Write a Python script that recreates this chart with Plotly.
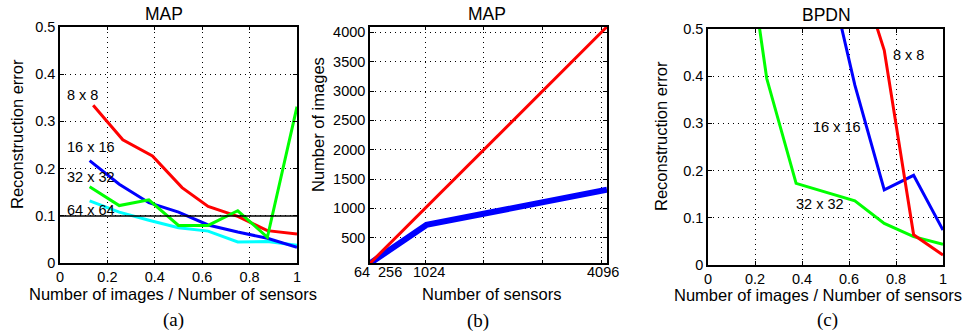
import plotly.graph_objects as go

W, H = 966, 334

# ---------------- data ----------------
# Panel (a): MAP reconstruction error vs ratio
a_x_8 = [0.14, 0.265, 0.39, 0.515, 0.625, 0.75, 0.875, 1.0]
a_y_8 = [0.334, 0.261, 0.227, 0.160, 0.120, 0.099, 0.069, 0.062]
a_x = [0.125, 0.25, 0.375, 0.5, 0.625, 0.75, 0.875, 1.0]
a_y_16 = [0.217, 0.167, 0.128, 0.108, 0.081, 0.066, 0.053, 0.034]
a_y_32 = [0.162, 0.122, 0.134, 0.080, 0.080, 0.111, 0.055, 0.331]
a_y_64 = [0.132, 0.108, 0.091, 0.075, 0.068, 0.045, 0.046, 0.038]
a_threshold = 0.1

# Panel (b): number of images vs number of sensors
b_sensors = [64, 1024, 4096]
b_images_red = [64, 1024, 4096]
b_images_blue = [64, 718, 1318]
b_tick_text = ["64", "256", "1024", "4096"]
b_tick_label_pos = [-64, 405, 1060, 4033]
b_grid_x = [1000, 2000, 3000, 4000]
b_y_ticks = [500, 1000, 1500, 2000, 2500, 3000, 3500, 4000]
b_range = [64, 4096]

# Panel (c): BPDN reconstruction error
c_x_8 = [0.625, 0.75, 0.875, 1.0]
c_y_8 = [0.65, 0.455, 0.064, 0.021]
c_x_16 = [0.5, 0.625, 0.75, 0.875, 1.0]
c_y_16 = [0.65, 0.381, 0.159, 0.190, 0.074]
c_x_32 = [0.125, 0.25, 0.375, 0.5, 0.625, 0.75, 0.875, 1.0]
c_y_32 = [0.83, 0.395, 0.173, 0.155, 0.136, 0.088, 0.060, 0.044]

ratio_ticks = [0, 0.2, 0.4, 0.6, 0.8, 1]
ratio_labels = ["0", "0.2", "0.4", "0.6", "0.8", "1"]
err_ticks = [0, 0.1, 0.2, 0.3, 0.4, 0.5]
err_labels = ["0", "0.1", "0.2", "0.3", "0.4", "0.5"]

# ---------------- styling ----------------
SANS = "Liberation Sans, Arial, sans-serif"
SERIF = "Liberation Serif, Times New Roman, serif"
RED, BLUE, GREEN, CYAN = "#ff0000", "#0000ff", "#00ff00", "#00ffff"

def px_x(p):
    return p / W

def px_y(p):
    return 1 - p / H

fig = go.Figure()

# panel a
for xs, ys, c in [(a_x, a_y_64, CYAN), (a_x, a_y_16, BLUE), (a_x_8, a_y_8, RED), (a_x, a_y_32, GREEN)]:
    fig.add_trace(go.Scatter(x=xs, y=ys, mode="lines", line=dict(color=c, width=3),
                             xaxis="x", yaxis="y", showlegend=False))
fig.add_trace(go.Scatter(x=[0, 1], y=[a_threshold, a_threshold], mode="lines",
                         line=dict(color="black", width=1.3), xaxis="x", yaxis="y", showlegend=False))

# panel b
fig.add_trace(go.Scatter(x=b_sensors, y=b_images_blue, mode="lines", line=dict(color=BLUE, width=6),
                         xaxis="x2", yaxis="y2", showlegend=False))
fig.add_trace(go.Scatter(x=b_sensors, y=b_images_red, mode="lines", line=dict(color=RED, width=3),
                         xaxis="x2", yaxis="y2", showlegend=False))

# panel c
for xs, ys, c in [(c_x_32, c_y_32, GREEN), (c_x_16, c_y_16, BLUE), (c_x_8, c_y_8, RED)]:
    fig.add_trace(go.Scatter(x=xs, y=ys, mode="lines", line=dict(color=c, width=3),
                             xaxis="x3", yaxis="y3", showlegend=False))

base = dict(showline=True, linecolor="black", linewidth=1.5, mirror="ticks",
            ticks="inside", ticklen=4, tickcolor="black", tickwidth=1,
            showgrid=True, gridcolor="black", griddash="1px,4px", gridwidth=1,
            zeroline=False, tickfont=dict(family=SANS, size=14.5, color="black"),
            fixedrange=True, automargin=False, tickangle=0)

def ax(**kw):
    d = dict(base)
    d.update(kw)
    return d

B_LEFT, B_RIGHT = 370, 607
dom_a = [px_x(60), px_x(297)]
dom_b = [px_x(B_LEFT), px_x(B_RIGHT)]
dom_c = [px_x(708), px_x(943)]
ydom_ab = [px_y(263.3), px_y(26.7)]
ydom_c = [px_y(265), px_y(29)]

fig.update_layout(
    template="none",
    width=W, height=H, margin=dict(l=0, r=0, t=0, b=0, pad=0),
    paper_bgcolor="white", plot_bgcolor="white", showlegend=False,
    xaxis=ax(domain=dom_a, range=[0, 1], tickmode="array", tickvals=ratio_ticks, ticktext=ratio_labels,
             anchor="y", ticklabelstandoff=0),
    yaxis=ax(domain=ydom_ab, range=[0, 0.5], tickmode="array", tickvals=err_ticks, ticktext=err_labels,
             anchor="x"),
    xaxis2=ax(domain=dom_b, range=b_range, tickmode="array", tickvals=b_grid_x,
              showticklabels=False, anchor="y2"),
    yaxis2=ax(domain=ydom_ab, range=b_range, tickmode="array", tickvals=b_y_ticks,
              ticktext=[str(v) for v in b_y_ticks], anchor="x2"),
    xaxis3=ax(domain=dom_c, range=[0, 1], tickmode="array", tickvals=ratio_ticks, ticktext=ratio_labels,
              anchor="y3", ticklabelstandoff=0),
    yaxis3=ax(domain=ydom_c, range=[0, 0.5], tickmode="array", tickvals=err_ticks, ticktext=err_labels,
              anchor="x3"),
)

ann = []

def text(x, y, s, size=16.5, family=SANS, angle=0, xanchor="center", xref="paper", yref="paper"):
    ann.append(dict(x=x, y=y, xref=xref, yref=yref, text=s, showarrow=False,
                    font=dict(family=family, size=size, color="black"), textangle=angle,
                    xanchor=xanchor, yanchor="middle"))

# panel b x tick labels (placed in paper space so the first one may sit left of the axis)
for pos, lab in zip(b_tick_label_pos, b_tick_text):
    frac = (pos - b_range[0]) / (b_range[1] - b_range[0])
    text(px_x(B_LEFT + frac * (B_RIGHT - B_LEFT)), px_y(272), lab, size=14.5)

# titles
text(px_x(164), px_y(14), "MAP", size=17.5)
text(px_x(487), px_y(14), "MAP", size=17.5)
text(px_x(826), px_y(15), "BPDN", size=17.5)
# axis titles
text(px_x(173), px_y(294), "Number of images / Number of sensors")
text(px_x(492), px_y(294), "Number of sensors")
text(px_x(818), px_y(294.5), "Number of images / Number of sensors")
text(px_x(17), px_y(134), "Reconstruction error", angle=-90)
text(px_x(318), px_y(125), "Number of images", angle=-90)
text(px_x(661), px_y(136), "Reconstruction error", angle=-90)
# panel letters
text(px_x(173), px_y(320), "(a)", size=19, family=SERIF)
text(px_x(478), px_y(321), "(b)", size=19, family=SERIF)
text(px_x(827), px_y(320), "(c)", size=19, family=SERIF)

# curve labels panel a
a_lab_x = 0.02
for y, s in [(0.356, "8 x 8"), (0.246, "16 x 16"), (0.182, "32 x 32"), (0.113, "64 x 64")]:
    text(a_lab_x, y, s, size=14.5, xanchor="left", xref="x", yref="y")
# curve labels panel c
for x, y, s in [(0.852, 0.445, "8 x 8"), (0.548, 0.292, "16 x 16"), (0.477, 0.129, "32 x 32")]:
    text(x, y, s, size=14.5, xref="x3", yref="y3")

fig.update_layout(annotations=ann)
fig.write_html("out.html", config={"displayModeBar": False},
               post_script="document.body.style.margin='0';document.body.style.overflow='hidden';")
